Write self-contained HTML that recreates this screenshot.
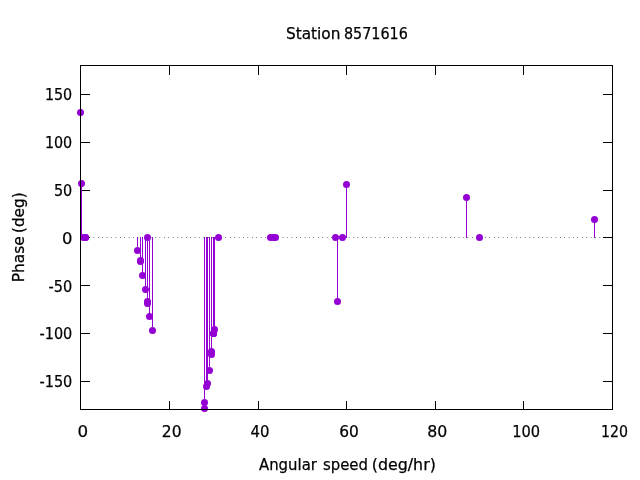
<!DOCTYPE html>
<html lang="en">
<head>
<meta charset="utf-8">
<title>Station 8571616</title>
<style>
html,body{margin:0;padding:0;background:#fff;}
body{width:640px;height:480px;overflow:hidden;}
svg{display:block;}
text{font-family:"DejaVu Sans","Liberation Sans",sans-serif;font-size:16px;fill:#000;stroke:#000;stroke-width:0.25px;}
</style>
</head>
<body>
<svg width="640" height="480" viewBox="0 0 640 480">
<rect x="0" y="0" width="640" height="480" fill="#ffffff"/>
<g stroke="#000" stroke-width="1" fill="none">
<line x1="80.5" y1="381.5" x2="90.0" y2="381.5"/><line x1="612.5" y1="381.5" x2="603.0" y2="381.5"/>
<line x1="80.5" y1="333.5" x2="90.0" y2="333.5"/><line x1="612.5" y1="333.5" x2="603.0" y2="333.5"/>
<line x1="80.5" y1="285.5" x2="90.0" y2="285.5"/><line x1="612.5" y1="285.5" x2="603.0" y2="285.5"/>
<line x1="80.5" y1="237.5" x2="90.0" y2="237.5"/><line x1="612.5" y1="237.5" x2="603.0" y2="237.5"/>
<line x1="80.5" y1="190.5" x2="90.0" y2="190.5"/><line x1="612.5" y1="190.5" x2="603.0" y2="190.5"/>
<line x1="80.5" y1="142.5" x2="90.0" y2="142.5"/><line x1="612.5" y1="142.5" x2="603.0" y2="142.5"/>
<line x1="80.5" y1="94.5" x2="90.0" y2="94.5"/><line x1="612.5" y1="94.5" x2="603.0" y2="94.5"/>
<line x1="80.5" y1="409.5" x2="80.5" y2="401.0"/><line x1="80.5" y1="65.5" x2="80.5" y2="75.0"/>
<line x1="169.5" y1="409.5" x2="169.5" y2="401.0"/><line x1="169.5" y1="65.5" x2="169.5" y2="75.0"/>
<line x1="258.5" y1="409.5" x2="258.5" y2="401.0"/><line x1="258.5" y1="65.5" x2="258.5" y2="75.0"/>
<line x1="346.5" y1="409.5" x2="346.5" y2="401.0"/><line x1="346.5" y1="65.5" x2="346.5" y2="75.0"/>
<line x1="435.5" y1="409.5" x2="435.5" y2="401.0"/><line x1="435.5" y1="65.5" x2="435.5" y2="75.0"/>
<line x1="523.5" y1="409.5" x2="523.5" y2="401.0"/><line x1="523.5" y1="65.5" x2="523.5" y2="75.0"/>
<line x1="612.5" y1="409.5" x2="612.5" y2="401.0"/><line x1="612.5" y1="65.5" x2="612.5" y2="75.0"/>
</g>
<line x1="80.5" y1="237.5" x2="612.5" y2="237.5" stroke="#000" stroke-width="1" stroke-dasharray="0.5 3.9" stroke-dashoffset="0.05"/>
<g stroke="#9400d3" stroke-width="1" fill="none">
<line x1="80.5" y1="238.0" x2="80.5" y2="112.5"/>
<line x1="81.5" y1="238.0" x2="81.5" y2="183.5"/>
<line x1="137.5" y1="237.0" x2="137.5" y2="250.5"/>
<line x1="140.5" y1="237.0" x2="140.5" y2="260.5"/>
<line x1="140.5" y1="237.0" x2="140.5" y2="261.5"/>
<line x1="142.5" y1="237.0" x2="142.5" y2="275.5"/>
<line x1="145.5" y1="237.0" x2="145.5" y2="289.5"/>
<line x1="147.5" y1="237.0" x2="147.5" y2="301.5"/>
<line x1="147.5" y1="237.0" x2="147.5" y2="303.5"/>
<line x1="149.5" y1="237.0" x2="149.5" y2="316.5"/>
<line x1="152.5" y1="237.0" x2="152.5" y2="330.5"/>
<line x1="204.5" y1="237.0" x2="204.5" y2="402.5"/>
<line x1="204.5" y1="237.0" x2="204.5" y2="408.5"/>
<line x1="206.5" y1="237.0" x2="206.5" y2="386.5"/>
<line x1="207.5" y1="237.0" x2="207.5" y2="383.5"/>
<line x1="209.5" y1="237.0" x2="209.5" y2="370.5"/>
<line x1="211.5" y1="237.0" x2="211.5" y2="351.5"/>
<line x1="211.5" y1="237.0" x2="211.5" y2="354.5"/>
<line x1="213.5" y1="237.0" x2="213.5" y2="333.5"/>
<line x1="213.5" y1="237.0" x2="213.5" y2="333.5"/>
<line x1="213.5" y1="237.0" x2="213.5" y2="333.5"/>
<line x1="214.5" y1="237.0" x2="214.5" y2="329.5"/>
<line x1="337.5" y1="237.0" x2="337.5" y2="301.5"/>
<line x1="346.5" y1="238.0" x2="346.5" y2="184.5"/>
<line x1="466.5" y1="238.0" x2="466.5" y2="197.5"/>
<line x1="594.5" y1="238.0" x2="594.5" y2="219.5"/>
</g>
<g fill="#9400d3" stroke="none">
<circle cx="80.5" cy="112.5" r="3.5"/>
<circle cx="81.5" cy="183.5" r="3.5"/>
<circle cx="83.5" cy="237.5" r="3.5"/>
<circle cx="85.5" cy="237.5" r="3.5"/>
<circle cx="85.5" cy="237.5" r="3.5"/>
<circle cx="137.5" cy="250.5" r="3.5"/>
<circle cx="140.5" cy="260.5" r="3.5"/>
<circle cx="140.5" cy="261.5" r="3.5"/>
<circle cx="142.5" cy="275.5" r="3.5"/>
<circle cx="145.5" cy="289.5" r="3.5"/>
<circle cx="147.5" cy="301.5" r="3.5"/>
<circle cx="147.5" cy="237.5" r="3.5"/>
<circle cx="147.5" cy="303.5" r="3.5"/>
<circle cx="149.5" cy="316.5" r="3.5"/>
<circle cx="152.5" cy="330.5" r="3.5"/>
<circle cx="204.5" cy="402.5" r="3.5"/>
<circle cx="204.5" cy="408.5" r="3.5"/>
<circle cx="206.5" cy="386.5" r="3.5"/>
<circle cx="207.5" cy="383.5" r="3.5"/>
<circle cx="209.5" cy="370.5" r="3.5"/>
<circle cx="211.5" cy="351.5" r="3.5"/>
<circle cx="211.5" cy="354.5" r="3.5"/>
<circle cx="213.5" cy="333.5" r="3.5"/>
<circle cx="213.5" cy="333.5" r="3.5"/>
<circle cx="213.5" cy="333.5" r="3.5"/>
<circle cx="214.5" cy="329.5" r="3.5"/>
<circle cx="218.5" cy="237.5" r="3.5"/>
<circle cx="270.5" cy="237.5" r="3.5"/>
<circle cx="273.5" cy="237.5" r="3.5"/>
<circle cx="275.5" cy="237.5" r="3.5"/>
<circle cx="335.5" cy="237.5" r="3.5"/>
<circle cx="337.5" cy="301.5" r="3.5"/>
<circle cx="342.5" cy="237.5" r="3.5"/>
<circle cx="346.5" cy="184.5" r="3.5"/>
<circle cx="466.5" cy="197.5" r="3.5"/>
<circle cx="479.5" cy="237.5" r="3.5"/>
<circle cx="594.5" cy="219.5" r="3.5"/>
</g>
<rect x="80.5" y="65.5" width="532.0" height="344.0" fill="none" stroke="#000" stroke-width="1"/>
<g>
<text x="39.48" y="387.0" textLength="32.83" lengthAdjust="spacingAndGlyphs">-150</text>
<text x="39.48" y="339.3" textLength="32.83" lengthAdjust="spacingAndGlyphs">-100</text>
<text x="48.58" y="291.5" textLength="23.66" lengthAdjust="spacingAndGlyphs">-50</text>
<text x="61.97" y="243.7" textLength="10.43" lengthAdjust="spacingAndGlyphs">0</text>
<text x="53.92" y="195.9" textLength="18.33" lengthAdjust="spacingAndGlyphs">50</text>
<text x="44.89" y="148.1" textLength="27.34" lengthAdjust="spacingAndGlyphs">100</text>
<text x="44.89" y="100.4" textLength="27.34" lengthAdjust="spacingAndGlyphs">150</text>
<text x="77.60" y="437.1" textLength="10.63" lengthAdjust="spacingAndGlyphs">0</text>
<text x="161.84" y="437.1" textLength="19.68" lengthAdjust="spacingAndGlyphs">20</text>
<text x="250.56" y="437.1" textLength="18.93" lengthAdjust="spacingAndGlyphs">40</text>
<text x="339.34" y="437.1" textLength="19.58" lengthAdjust="spacingAndGlyphs">60</text>
<text x="427.32" y="437.1" textLength="20.02" lengthAdjust="spacingAndGlyphs">80</text>
<text x="512.26" y="437.1" textLength="27.89" lengthAdjust="spacingAndGlyphs">100</text>
<text x="600.91" y="437.1" textLength="27.01" lengthAdjust="spacingAndGlyphs">120</text>
<text x="285.95" y="39.2" textLength="54.48" lengthAdjust="spacingAndGlyphs">Station</text>
<text x="344.01" y="39.2" textLength="63.83" lengthAdjust="spacingAndGlyphs">8571616</text>
<text x="259.01" y="470" textLength="57.90" lengthAdjust="spacingAndGlyphs">Angular</text>
<text x="322.91" y="470" textLength="45.03" lengthAdjust="spacingAndGlyphs">speed</text>
<text x="371.71" y="470" textLength="64.12" lengthAdjust="spacingAndGlyphs">(deg/hr)</text>
<text transform="translate(24.4,282.34) rotate(-90)" x="0" y="0" textLength="46.09" lengthAdjust="spacingAndGlyphs">Phase</text>
<text transform="translate(24.4,233.09) rotate(-90)" x="0" y="0" textLength="40.77" lengthAdjust="spacingAndGlyphs">(deg)</text>
</g>
</svg>
</body>
</html>
